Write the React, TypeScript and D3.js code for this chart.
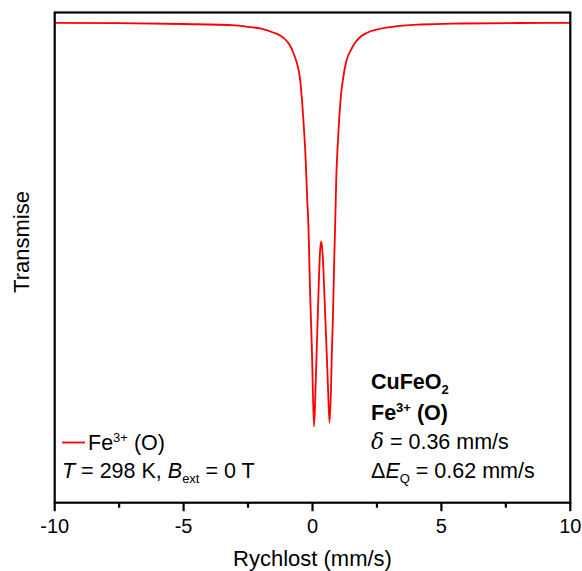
import React from "react";
import * as d3 from "d3";

const velocity = [
  -10, -7.5, -5, -3, -2.57, -2.0, -1.53, -1.25, -1.0, -0.87, -0.75, -0.61, -0.48, -0.42, -0.33, -0.26,
  -0.21, -0.16, -0.13, -0.10, -0.06, -0.02, 0.01, 0.06, 0.12, 0.16, 0.20, 0.24, 0.29, 0.34, 0.39, 0.45,
  0.50, 0.55, 0.60, 0.66, 0.72, 0.75, 0.79, 0.82, 0.85, 0.88, 0.92, 0.98, 1.03, 1.10, 1.18, 1.31, 1.5,
  1.66, 1.86, 2.1, 3.1, 4.2, 5.8, 8, 10,
];
const transmission = [
  0.99967, 0.99964, 0.99955, 0.99942, 0.99929, 0.99908, 0.9987, 0.9984, 0.99785, 0.9974, 0.9967, 0.9957,
  0.994, 0.99233, 0.989, 0.9857, 0.98233, 0.9795, 0.9767, 0.9733, 0.97, 0.9667, 0.9633, 0.95933, 0.96333,
  0.9667, 0.97, 0.9733, 0.9767, 0.97783, 0.9767, 0.9733, 0.97, 0.9667, 0.9633, 0.9597, 0.9633, 0.9667,
  0.97, 0.9733, 0.9767, 0.9795, 0.984, 0.9875, 0.9898, 0.99233, 0.994, 0.9958, 0.997, 0.9977, 0.99828,
  0.99865, 0.99927, 0.9995, 0.9996, 0.99965, 0.99967,
];
const majorTicks = [-10, -5, 0, 5, 10];
const minorTicks = [-7.5, -2.5, 2.5, 7.5];
const xDomain = [-10, 10];
const yDomain = [0.9517, 1.0007];

const W = 582;
const H = 571;
const left = 54.7;
const right = 570.3;
const top = 12.5;
const bottom = 502.7;
const FONT = "'Liberation Sans', Arial, sans-serif";

export default function App() {
  const x = d3.scaleLinear().domain(xDomain).range([left, right]);
  const y = d3.scaleLinear().domain(yDomain).range([bottom, top]);
  const pts: [number, number][] = velocity.map((v, i) => [v, transmission[i]]);
  const line = d3
    .line<[number, number]>()
    .x((d) => x(d[0]))
    .y((d) => y(d[1]))
    .curve(d3.curveMonotoneX);

  const fs = 21.5;
  const sfs = 13;

  return (
    <svg
      width={W}
      height={H}
      style={{ position: "absolute", left: 0, top: 0, background: "#fff" }}
      fontFamily={FONT}
    >
      <rect x={0} y={0} width={W} height={H} fill="#fff" />
      <path d={line(pts) || ""} fill="none" stroke="#ff0000" strokeWidth={1.8} />
      <rect
        x={left}
        y={top}
        width={right - left}
        height={bottom - top}
        fill="none"
        stroke="#000"
        strokeWidth={2.2}
      />
      {majorTicks.map((t) => (
        <g key={"M" + t}>
          <line x1={x(t)} x2={x(t)} y1={bottom} y2={bottom + 8.5} stroke="#000" strokeWidth={2.2} />
          <text x={x(t)} y={533} textAnchor="middle" fontSize={20} fill="#000">
            {t}
          </text>
        </g>
      ))}
      {minorTicks.map((t) => (
        <line key={"m" + t} x1={x(t)} x2={x(t)} y1={bottom} y2={bottom + 5} stroke="#000" strokeWidth={2.2} />
      ))}
      <text x={(left + right) / 2} y={565.5} textAnchor="middle" fontSize={22} fill="#000">
        Rychlost (mm/s)
      </text>
      <text
        transform={`translate(29,242) rotate(-90)`}
        textAnchor="middle"
        fontSize={22}
        fill="#000"
      >
        Transmise
      </text>

      {/* legend */}
      <line x1={62} x2={85} y1={442.5} y2={442.5} stroke="#ff0000" strokeWidth={1.8} />
      <text x={88} y={450} fontSize={fs} fill="#000">
        Fe<tspan dy={-8} fontSize={sfs}>3+</tspan>
        <tspan dy={8}> (O)</tspan>
      </text>
      <text x={62} y={478} fontSize={fs} fill="#000">
        <tspan fontStyle="italic">T</tspan> = 298 K, <tspan fontStyle="italic">B</tspan>
        <tspan dy={5} fontSize={sfs}>ext</tspan>
        <tspan dy={-5}> = 0 T</tspan>
      </text>

      {/* annotation */}
      <text x={371} y={389} fontSize={fs} fontWeight="bold" fill="#000">
        CuFeO<tspan dy={5} fontSize={sfs}>2</tspan>
      </text>
      <text x={371} y={420} fontSize={fs} fontWeight="bold" fill="#000">
        Fe<tspan dy={-8} fontSize={sfs}>3+</tspan>
        <tspan dy={8}> (O)</tspan>
      </text>
      <text x={371} y={449} fontSize={fs} fill="#000">
        <tspan fontStyle="italic" fontFamily="'DejaVu Serif', serif">δ</tspan> = 0.36 mm/s
      </text>
      <text x={371} y={478} fontSize={fs} fill="#000">
        Δ<tspan fontStyle="italic">E</tspan>
        <tspan dy={5} fontSize={sfs}>Q</tspan>
        <tspan dy={-5}> = 0.62 mm/s</tspan>
      </text>
    </svg>
  );
}
